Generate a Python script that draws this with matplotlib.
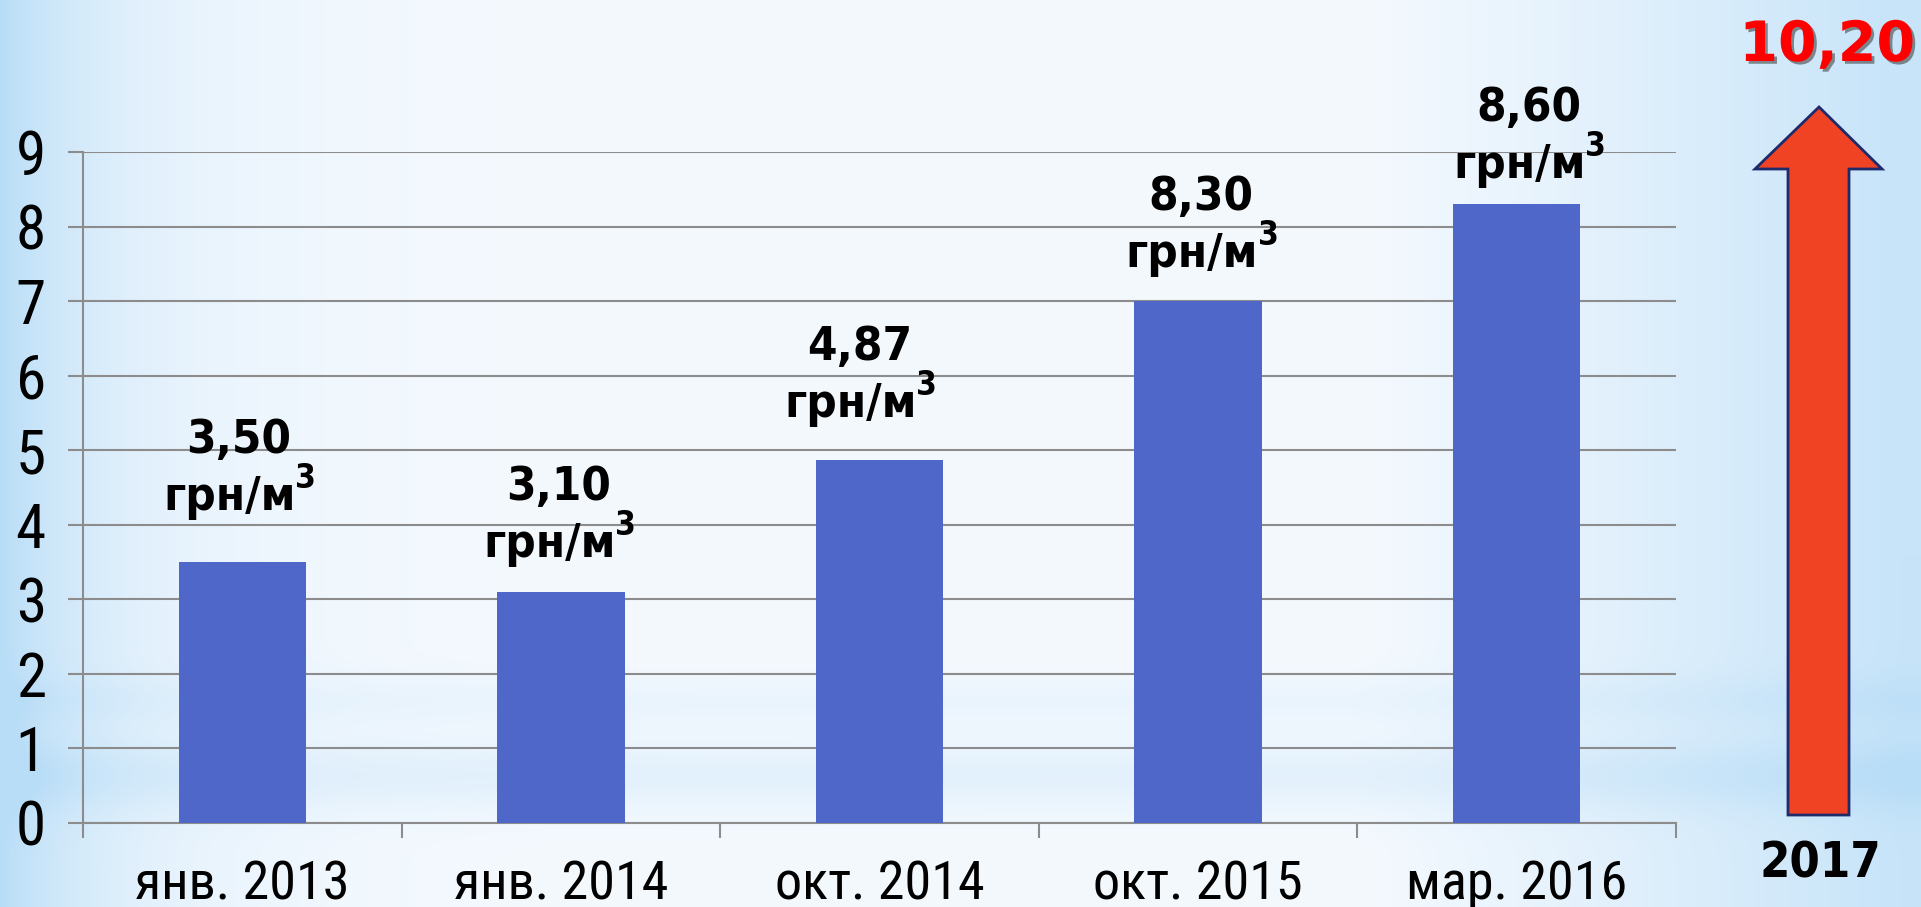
import numpy as np
import matplotlib
matplotlib.use("Agg")
import matplotlib.pyplot as plt
from matplotlib.patches import Polygon
import matplotlib.patheffects as pe

# данные
periods = ["янв. 2013", "янв. 2014", "окт. 2014", "окт. 2015", "мар. 2016"]
bar_values = [3.5, 3.1, 4.87, 7.0, 8.3]
label_values = ["3,50", "3,10", "4,87", "8,30", "8,60"]
unit = "грн/м"
unit_power = "3"
forecast_year = "2017"
forecast_value = "10,20"

# ручные сдвиги подписей (пиксели)
label_dx = [-4, -2, -20, 3, 12]
label_dy = [52, 35, 43, 34, 26]
line_gap = 57

W, H = 1921, 907
fig = plt.figure(figsize=(W / 100, H / 100), dpi=100)

# фон с градиентом
xs = np.arange(W)
ys = np.arange(H)
left = np.exp(-xs / 120.0)
right = np.clip((xs - 1350) / 550.0, 0, 1) ** 1.2 * 0.75
horiz = np.maximum(left, right)
band = 0.45 * np.exp(-((ys - 775) / 35.0) ** 2) + 0.25 * np.exp(-((ys - 700) / 25.0) ** 2)
t = np.clip(horiz[None, :] + band[:, None] * 0.6, 0, 1)
blue = np.array([184, 221, 247]) / 255.0
white = np.array([244, 249, 254]) / 255.0
fon = white[None, None, :] * (1 - t[..., None]) + blue[None, None, :] * t[..., None]

ax_bg = fig.add_axes([0, 0, 1, 1])
ax_bg.imshow(fon, aspect="auto", extent=(0, W, H, 0))
ax_bg.set_xlim(0, W)
ax_bg.set_ylim(H, 0)
ax_bg.axis("off")

# основной график
ax = fig.add_axes([83 / W, 1 - 823 / H, (1676 - 83) / W, (823 - 152) / H])
ax.patch.set_alpha(0)
x = np.arange(len(periods)) + 0.5
ax.bar(x, bar_values, width=0.4, color="#4F67C8", zorder=3)
ax.set_xlim(0, len(periods))
ax.set_ylim(0, 9)

grey = "#8C8C8C"
ax.set_yticks(range(10))
ax.yaxis.grid(True, color=grey, lw=1.5)
ax.set_axisbelow(True)
for s in ["top", "right"]:
    ax.spines[s].set_visible(False)
for s in ["left", "bottom"]:
    ax.spines[s].set_color(grey)
    ax.spines[s].set_linewidth(1.5)

tick_font = ["Roboto Condensed", "DejaVu Sans"]
ax.tick_params(axis="y", length=10.8, width=1.5, color=grey, pad=16, labelsize=44)
ax.set_xticks(range(len(periods) + 1))
ax.set_xticklabels([])
ax.tick_params(axis="x", which="major", length=10.8, width=1.5, color=grey)
ax.set_xticks(x, minor=True)
ax.set_xticklabels(periods, minor=True)
ax.tick_params(axis="x", which="minor", length=0, pad=26, labelsize=39)
for lab in ax.get_yticklabels() + ax.get_xticklabels(minor=True):
    lab.set_family(tick_font)

bold = dict(fontsize=34, fontweight="bold", fontstretch="condensed", family="DejaVu Sans", color="black")
for i in range(len(periods)):
    ax.annotate(label_values[i], xy=(x[i], bar_values[i]),
                xytext=(label_dx[i] * 0.72, (label_dy[i] + line_gap) * 0.72),
                textcoords="offset points", ha="center", va="baseline", zorder=5, **bold)
    t_unit = ax.annotate(unit, xy=(x[i], bar_values[i]),
                         xytext=((label_dx[i] - 9) * 0.72, label_dy[i] * 0.72),
                         textcoords="offset points", ha="center", va="baseline", zorder=5, **bold)
    ax.annotate(unit_power, xy=(1, 0), xycoords=t_unit, xytext=(-0.5, 23),
                textcoords="offset points", ha="left", va="baseline", zorder=5,
                fontsize=24, fontweight="bold", fontstretch="condensed", family="DejaVu Sans",
                color="black")

# стрелка прогноза
ax_top = fig.add_axes([0, 0, 1, 1])
ax_top.set_xlim(0, W)
ax_top.set_ylim(H, 0)
ax_top.axis("off")
ax_top.patch.set_alpha(0)
strelka = Polygon([(1819, 107), (1882, 169), (1849, 169), (1849, 815),
                   (1788, 815), (1788, 169), (1755, 169)],
                  closed=True, facecolor="#F04324", edgecolor="#1F2A6B", lw=2)
ax_top.add_patch(strelka)

fig.text(1827 / W, 1 - 61 / H, forecast_value, color="#FF0000", fontsize=40,
         fontweight="bold", ha="center", va="baseline",
         path_effects=[pe.SimplePatchShadow(offset=(2, -2), shadow_rgbFace="#444444", alpha=0.6),
                       pe.Normal()])
fig.text(1820 / W, 1 - 877 / H, forecast_year, color="black", fontsize=35,
         fontweight="bold", fontstretch="condensed", family="DejaVu Sans",
         ha="center", va="baseline")

fig.savefig("out.png", dpi=100)
